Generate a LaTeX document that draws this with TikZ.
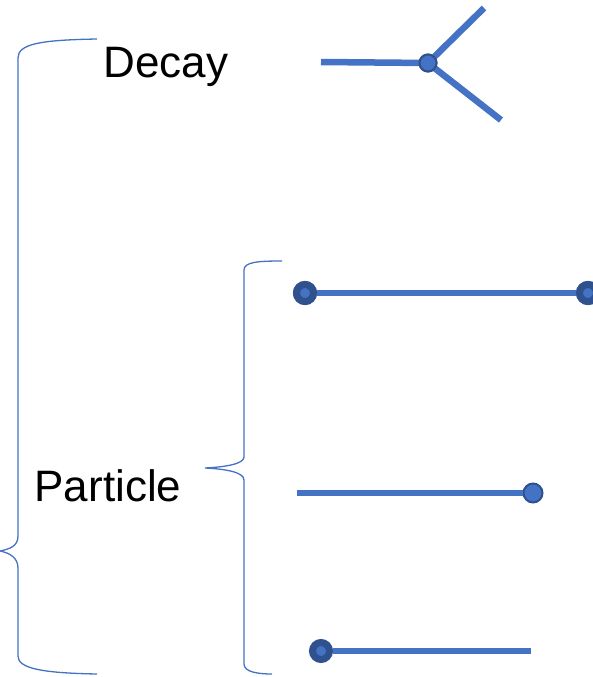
\documentclass[tikz,border=0pt]{standalone}
\usepackage{fontspec}
\setmainfont{Liberation Sans}
\begin{document}
\begin{tikzpicture}[x=1pt,y=-1pt,
  bar/.style={line width=6.5pt,draw=lineblue},
  brace/.style={line width=1.3pt,draw=lineblue},
  label/.style={font=\fontsize{44}{44}\selectfont,inner sep=0pt},
  dot/.style={circle,fill=lineblue,draw=darkblue,line width=2pt,minimum size=19pt,inner sep=0pt},
  ring/.style={circle,fill=lineblue,draw=darkblue,line width=7pt,minimum size=17pt,inner sep=0pt},
]
\definecolor{lineblue}{HTML}{4472C4}
\definecolor{darkblue}{HTML}{2F528F}
\useasboundingbox (0,0) rectangle (593,677);

% labels
\node[label] (decay) at (166,67) {Decay};
\node[label] (particle) at (108,486) {Particle};

% outer brace
\draw[brace] (97,39) .. controls (40,40) and (18,44) .. (18,58)
  -- (18,536) .. controls (18,546) and (10,549) .. (0,551)
  .. controls (10,553) and (18,558) .. (18,568)
  -- (18,656) .. controls (18,668) and (40,673) .. (97,674);

% inner brace
\draw[brace] (282,261) .. controls (258,261) and (244,262) .. (244,270)
  -- (244,457) .. controls (244,464) and (225,467) .. (205,468)
  .. controls (225,469) and (244,472) .. (244,480)
  -- (244,664) .. controls (244,672) and (258,674) .. (272,674);

% decay vertex
\coordinate (din) at (321,62);
\coordinate (dup) at (484,8);
\coordinate (ddown) at (501,120);
\node[dot,minimum size=17pt] (vtx) at (428,63) {};
\draw[bar] (din) -- (vtx.center);
\draw[bar] (vtx.center) -- (dup);
\draw[bar] (vtx.center) -- (ddown);
\node[dot,minimum size=17pt] at (vtx) {};

% particle with two ends
\node[ring] (pa) at (305,293) {};
\node[ring] (pb) at (588,293) {};
\draw[bar] (pa) -- (pb);
\node[ring] at (pa) {};
\node[ring] at (pb) {};

% particle with end point
\coordinate (qa) at (297,493);
\node[dot] (qb) at (533,493) {};
\draw[bar] (qa) -- (qb);

% particle with start point
\node[ring] (ra) at (321,651) {};
\coordinate (rb) at (531,651);
\draw[bar] (ra) -- (rb);
\end{tikzpicture}
\end{document}
